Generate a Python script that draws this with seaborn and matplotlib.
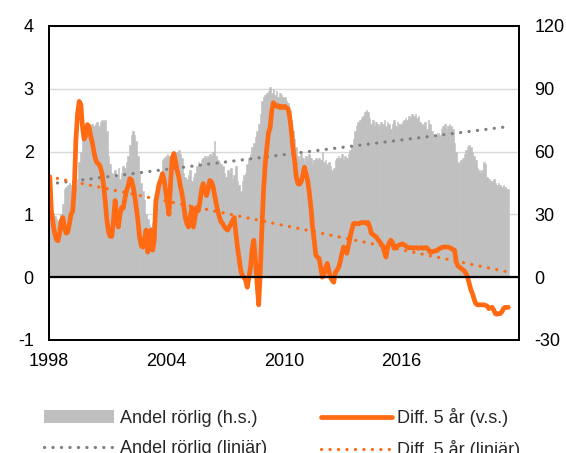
import numpy as np
import pandas as pd
import matplotlib
matplotlib.use("Agg")
import matplotlib.pyplot as plt
from matplotlib.patches import Patch
from matplotlib.lines import Line2D
import seaborn as sns

# ---------------- data (monthly, Jan 1998 - Jun 2021) ----------------
start_year = 1998
tick_years = [1998, 2004, 2010, 2016]
x_end_year = 2022
left_ticks = [-1, 0, 1, 2, 3, 4]
right_ticks = [-30, 0, 30, 60, 90, 120]

# Andel rörlig (h.s.), percent, right axis
andel_rorlig = [
    31, 31, 30, 29, 28, 27, 28, 30, 35, 42, 43, 44,   # 1998
    45, 44, 46, 45, 44, 47, 55, 60, 68, 70, 70, 71,   # 1999
    72, 71, 73, 72, 73, 74, 72, 74, 75, 74, 75, 70,   # 2000
    58, 54, 50, 48, 51, 49, 52, 47, 50, 53, 52, 55,   # 2001
    58, 63, 68, 70, 68, 65, 58, 50, 45, 41, 37, 30,   # 2002
    28, 25, 24, 26, 30, 35, 40, 45, 50, 56, 57, 58,   # 2003
    59, 58, 57, 56, 59, 60, 60, 61, 59, 57, 50, 48,   # 2004
    47, 49, 51, 46, 48, 50, 53, 55, 54, 56, 57, 58,   # 2005
    57, 58, 59, 58, 60, 65, 58, 56, 55, 54, 53, 50,   # 2006
    48, 51, 50, 52, 47, 49, 53, 46, 44, 41, 46, 49,   # 2007
    50, 54, 57, 59, 62, 64, 67, 70, 73, 78, 84, 86,   # 2008
    87, 88, 89, 91, 88, 90, 87, 89, 86, 88, 87, 86,   # 2009
    86, 84, 83, 80, 75, 70, 66, 62, 58, 56, 59, 57,   # 2010
    55, 58, 56, 59, 57, 54, 56, 57, 56, 57, 56, 60,   # 2011
    55, 56, 54, 55, 53, 51, 52, 56, 57, 58, 57, 59,   # 2012
    56, 58, 57, 59, 61, 63, 66, 70, 72, 74, 75, 76,   # 2013
    77, 79, 80, 79, 76, 73, 75, 72, 74, 73, 72, 74,   # 2014
    73, 75, 72, 74, 73, 71, 73, 75, 72, 74, 73, 73,   # 2015
    74, 75, 76, 75, 77, 76, 78, 77, 78, 76, 77, 74,   # 2016
    73, 72, 74, 71, 75, 73, 70, 68, 67, 68, 69, 68,   # 2017
    71, 72, 73, 71, 72, 73, 72, 71, 64, 60, 55, 54,   # 2018
    56, 57, 59, 61, 62, 63, 62, 60, 58, 56, 52, 51,   # 2019
    50, 51, 55, 54, 48, 47, 46, 46, 47, 45, 44, 45,   # 2020
    44, 43, 44, 43, 42, 42,                           # 2021
]

# Diff. 5 år (v.s.), percentage points, left axis
diff_5ar = [
    1.60, 1.05, 0.85, 0.70, 0.60, 0.58, 0.70, 0.90, 0.95, 0.78, 0.70, 0.72,   # 1998
    0.85, 1.00, 1.05, 1.40, 2.20, 2.60, 2.80, 2.75, 2.40, 2.20, 2.25, 2.43,   # 1999
    2.40, 2.25, 2.15, 2.00, 1.88, 1.82, 1.80, 1.75, 1.65, 1.45, 1.20, 0.90,   # 2000
    0.72, 0.65, 0.65, 0.90, 1.22, 0.95, 0.80, 1.00, 1.11, 1.10, 1.25, 1.38,   # 2001
    1.45, 1.57, 1.55, 1.45, 1.30, 1.10, 0.90, 0.64, 0.50, 0.48, 0.60, 0.75,   # 2002
    0.40, 0.55, 0.75, 0.43, 0.60, 1.22, 1.35, 1.49, 1.55, 1.65, 1.55, 1.38,   # 2003
    1.20, 1.00, 1.50, 1.90, 1.97, 1.85, 1.70, 1.60, 1.45, 1.33, 1.15, 0.95,   # 2004
    0.85, 0.80, 0.95, 1.11, 0.80, 0.95, 1.11, 1.06, 1.20, 1.40, 1.49, 1.40,   # 2005
    1.30, 1.40, 1.54, 1.52, 1.45, 1.30, 1.17, 1.05, 0.95, 0.88, 0.85, 0.80,   # 2006
    0.77, 0.75, 0.80, 0.85, 0.90, 0.95, 0.70, 0.48, 0.30, 0.11, 0.02, 0.00,   # 2007
    -0.05, -0.16, 0.00, 0.16, 0.45, 0.59, 0.27, -0.10, -0.44, 0.10, 0.80, 1.40,  # 2008
    1.80, 2.06, 2.30, 2.38, 2.65, 2.78, 2.75, 2.72, 2.73, 2.70, 2.72, 2.70,   # 2009
    2.72, 2.70, 2.68, 2.55, 2.33, 2.05, 1.86, 1.60, 1.49, 1.48, 1.52, 1.62,   # 2010
    1.75, 1.65, 1.54, 1.35, 1.11, 0.80, 0.59, 0.35, 0.32, 0.30, 0.15, 0.00,   # 2011
    0.05, 0.15, 0.22, 0.10, 0.00, -0.05, -0.08, 0.08, 0.11, 0.16, 0.25, 0.38,  # 2012
    0.48, 0.45, 0.38, 0.50, 0.64, 0.75, 0.85, 0.86, 0.85, 0.85, 0.86, 0.87,   # 2013
    0.87, 0.87, 0.86, 0.87, 0.80, 0.70, 0.68, 0.66, 0.64, 0.60, 0.57, 0.53,   # 2014
    0.50, 0.40, 0.32, 0.48, 0.55, 0.59, 0.55, 0.46, 0.48, 0.50, 0.51, 0.52,   # 2015
    0.53, 0.52, 0.50, 0.48, 0.47, 0.47, 0.47, 0.46, 0.47, 0.47, 0.46, 0.47,   # 2016
    0.47, 0.46, 0.47, 0.47, 0.44, 0.40, 0.40, 0.41, 0.42, 0.42, 0.44, 0.46,   # 2017
    0.47, 0.48, 0.48, 0.48, 0.48, 0.47, 0.46, 0.44, 0.43, 0.25, 0.18, 0.16,   # 2018
    0.14, 0.12, 0.10, 0.06, 0.00, -0.10, -0.20, -0.26, -0.35, -0.42, -0.44, -0.44,  # 2019
    -0.44, -0.44, -0.44, -0.45, -0.46, -0.50, -0.49, -0.48, -0.52, -0.58, -0.59, -0.58,  # 2020
    -0.58, -0.55, -0.50, -0.48, -0.48, -0.48,                                  # 2021
]

# Linear trends (end points)
trend_andel = [44.5, 72.0]   # right axis
trend_diff = [1.60, 0.08]    # left axis

labels = ["Andel rörlig (h.s.)", "Andel rörlig (linjär)",
          "Diff. 5 år (v.s.)", "Diff. 5 år (linjär)"]

# ---------------- styling ----------------
sns.set_style("white")
plt.rcParams["font.family"] = ["Liberation Sans", "DejaVu Sans"]
plt.rcParams["font.size"] = 13
plt.rcParams["axes.unicode_minus"] = False

GRAY_BAR = "#BFBFBF"
GRAY_DOT = "#7F7F7F"
ORANGE = "#FF6A13"
GRID = "#D9D9D9"
DOTS = (0, (0.05, 2.6))
LINE_W = 3.4

n = len(diff_5ar)
months = np.arange(n) + 0.5
df = pd.DataFrame({"m": months, "andel": andel_rorlig, "diff": diff_5ar})
n_total = (x_end_year - start_year) * 12

fig = plt.figure(figsize=(5.66, 4.53), dpi=100)
ax = fig.add_axes([49 / 566, 1 - 340 / 453, (519 - 49) / 566, (340 - 26) / 453])
ax2 = ax.twinx()

# bars on right axis (drawn underneath)
sns.barplot(data=df, x="m", y="andel", ax=ax2, native_scale=True, width=1.0,
            color=GRAY_BAR, edgecolor=GRAY_BAR, linewidth=0.4, saturation=1)
ax2.set_ylim(right_ticks[0], right_ticks[-1])
ax2.set_yticks(right_ticks)
ax2.set_yticklabels([str(t) for t in right_ticks])
ax2.set_axisbelow(True)
ax2.grid(True, color=GRID, linewidth=1.0)
trend_x = [0, n]
sns.lineplot(x=trend_x, y=trend_andel, ax=ax2, color=GRAY_DOT, lw=2.3)
ax2.lines[-1].set_linestyle(DOTS)
ax2.lines[-1].set_dash_capstyle("round")
ax2.set_xlabel("")
ax2.set_ylabel("")

# line on left axis (drawn on top)
ax.set_zorder(ax2.get_zorder() + 1)
ax.patch.set_visible(False)
sns.lineplot(data=df, x="m", y="diff", ax=ax, color=ORANGE, lw=LINE_W)
sns.lineplot(x=trend_x, y=trend_diff, ax=ax, color=ORANGE, lw=2.3)
ax.lines[-1].set_linestyle(DOTS)
ax.lines[-1].set_dash_capstyle("round")
ax.axhline(0, color="black", lw=1.6, zorder=5)
ax.set_ylim(left_ticks[0], left_ticks[-1])
ax.set_yticks(left_ticks)
ax.set_yticklabels([str(t) for t in left_ticks])
ax.set_xlim(0, n_total)
ax.set_xticks([(y - start_year) * 12 for y in tick_years])
ax.set_xticklabels([str(y) for y in tick_years])
ax2.set_xlim(0, n_total)
ax.set_xlabel("")
ax.set_ylabel("")
ax.grid(False)

for a in (ax, ax2):
    for s in a.spines.values():
        s.set_color("black")
        s.set_linewidth(1.3)
        s.set_visible(True)
ax.tick_params(axis="y", length=0, pad=11, labelsize=13, colors="black")
ax.tick_params(axis="x", length=0, pad=9, labelsize=13, colors="black")
ax2.tick_params(axis="y", length=0, pad=11, labelsize=13, colors="black")

# legend
handles = [
    Patch(facecolor=GRAY_BAR, edgecolor="none"),
    Line2D([0], [0], color=GRAY_DOT, lw=2.3, linestyle=DOTS, dash_capstyle="round"),
    Line2D([0], [0], color=ORANGE, lw=LINE_W),
    Line2D([0], [0], color=ORANGE, lw=2.3, linestyle=DOTS, dash_capstyle="round"),
]
fig.legend(handles, labels, ncol=2, loc="upper left",
           bbox_to_anchor=(44 / 566, 1 - 408 / 453), frameon=False,
           fontsize=13, handlelength=3.9, handletextpad=0.3,
           columnspacing=3.0, labelspacing=0.72, borderpad=0, borderaxespad=0)

fig.savefig("out.png", dpi=100)
